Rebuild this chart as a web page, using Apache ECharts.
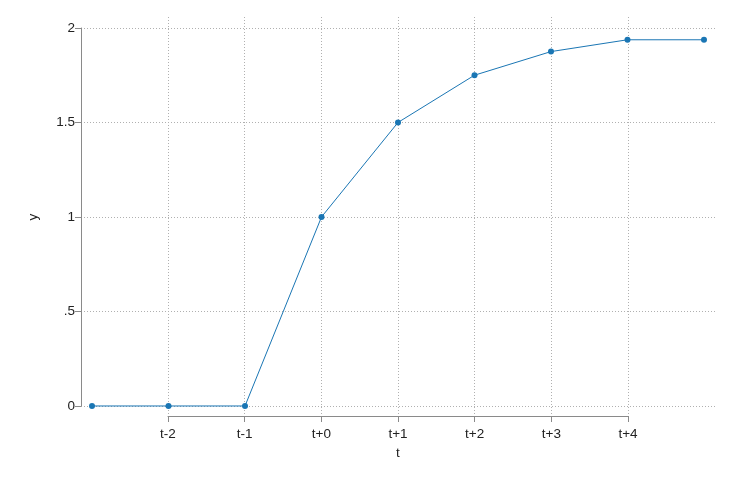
<!DOCTYPE html>
<html><head><meta charset="utf-8">
<script src="https://cdn.jsdelivr.net/npm/echarts@6/dist/echarts.min.js"></script>
<style>html,body{margin:0;padding:0;background:#fff}#c{width:733px;height:488px}</style>
</head><body><div id="c"></div>
<script>
const xValues = [-3, -2, -1, 0, 1, 2, 3, 4, 5];
const yValues = [0, 0, 0, 1, 1.5, 1.75, 1.875, 1.9375, 1.9375];
const xTickValues = [-2, -1, 0, 1, 2, 3, 4];
const xTickLabels = ['t-2', 't-1', 't+0', 't+1', 't+2', 't+3', 't+4'];
const yTickValues = [0, 0.5, 1, 1.5, 2];
const yTickLabels = ['0', '.5', '1', '1.5', '2'];

const font = 'Liberation Sans, Arial, sans-serif';
const axisCol = '#8a8a8a';
const gridCol = '#b0b0b0';
const lineCol = '#1a76b4';

const chart = echarts.init(document.getElementById('c'), null, {renderer: 'canvas'});
const xLab = v => { const i = xTickValues.indexOf(Math.round(v)); return i >= 0 ? xTickLabels[i] : ''; };
const yLab = v => { const i = yTickValues.findIndex(t => Math.abs(t - v) < 1e-6); return i >= 0 ? yTickLabels[i] : ''; };

chart.setOption({
  animation: false,
  backgroundColor: '#fff',
  grid: [
    {left: 81, right: 17, top: 17, bottom: 72},   // data
    {left: 168, right: 105, top: 17, bottom: 72}, // x axis
    {left: 81, right: 17, top: 28, bottom: 82}    // y axis
  ],
  xAxis: [
    {gridIndex: 0, type: 'value', min: -3.144, max: 5.157, show: false},
    {gridIndex: 1, type: 'value', min: -2, max: 4, interval: 1, position: 'bottom',
     name: 't', nameLocation: 'middle', nameGap: 30,
     nameTextStyle: {fontFamily: font, fontSize: 13.5, color: '#222'},
     axisLine: {show: true, onZero: false, lineStyle: {color: axisCol, width: 1}},
     axisTick: {show: true, length: 6, lineStyle: {color: axisCol}},
     axisLabel: {formatter: xLab, fontFamily: font, fontSize: 13.5, color: '#222', margin: 11},
     splitLine: {show: true, lineStyle: {color: gridCol, type: [1, 2], width: 1}}},
    {gridIndex: 2, type: 'value', min: 0, max: 1, show: false}
  ],
  yAxis: [
    {gridIndex: 0, type: 'value', min: -0.053, max: 2.058, show: false},
    {gridIndex: 1, type: 'value', min: 0, max: 1, show: false},
    {gridIndex: 2, type: 'value', min: 0, max: 2, interval: 0.5, position: 'left',
     name: 'y', nameLocation: 'middle', nameGap: 41, nameRotate: 90,
     nameTextStyle: {fontFamily: font, fontSize: 13.5, color: '#222'},
     axisLine: {show: true, onZero: false, lineStyle: {color: axisCol, width: 1}},
     axisTick: {show: true, length: 6, lineStyle: {color: axisCol}},
     axisLabel: {formatter: yLab, fontFamily: font, fontSize: 13.5, color: '#222', margin: 6},
     splitLine: {show: true, lineStyle: {color: gridCol, type: [1, 2], width: 1}}}
  ],
  series: [{
    type: 'line', xAxisIndex: 0, yAxisIndex: 0,
    data: xValues.map((x, i) => [x, yValues[i]]),
    symbol: 'circle', symbolSize: 6,
    lineStyle: {color: lineCol, width: 1},
    itemStyle: {color: lineCol},
    z: 10
  }]
});
</script></body></html>
